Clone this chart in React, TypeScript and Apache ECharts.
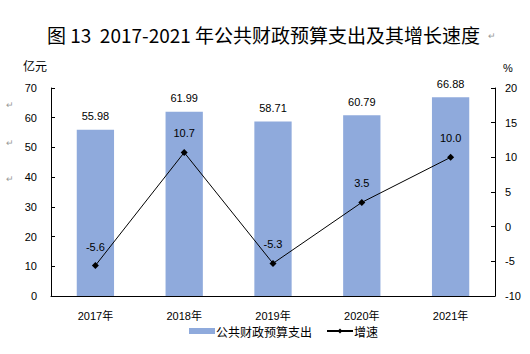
import React, { useEffect, useRef } from "react";
import * as echarts from "echarts";

const categories = ["2017年", "2018年", "2019年", "2020年", "2021年"];
const spending = [55.98, 61.99, 58.71, 60.79, 66.88];
const growth = [-5.6, 10.7, -5.3, 3.5, 10.0];
const seriesNames = ["公共财政预算支出", "增速"];
const titleText = "图 13  2017-2021 年公共财政预算支出及其增长速度";

export default function App() {
  const ref = useRef<HTMLDivElement>(null);
  useEffect(() => {
    const chart = echarts.init(ref.current!, undefined, { renderer: "svg" });
    const font = "'Liberation Sans', 'Noto Sans CJK SC', sans-serif";
    chart.setOption({
      animation: false,
      backgroundColor: "#ffffff",
      textStyle: { fontFamily: font, color: "#000" },
      title: {
        text: titleText,
        left: 42,
        top: 20,
        textStyle: { fontSize: 19, fontWeight: "normal", color: "#000", fontFamily: "'Noto Sans CJK SC', sans-serif" },
      },
      graphic: [
        { type: "text", left: 488, top: 31, style: { text: "↵", fill: "#999", fontSize: 9 } },
        { type: "text", left: 6, top: 100, style: { text: "↵", fill: "#999", fontSize: 9 } },
        { type: "text", left: 6, top: 138, style: { text: "↵", fill: "#999", fontSize: 9 } },
        { type: "text", left: 6, top: 174, style: { text: "↵", fill: "#999", fontSize: 9 } },
      ],
      grid: { left: 51, right: 35, top: 88, bottom: 58 },
      legend: {
        bottom: 12,
        left: 184,
        itemGap: 14,
        textStyle: { fontSize: 12, color: "#000", fontFamily: "'Noto Sans CJK SC', sans-serif", padding: [0, 0, 0, -4] },
        data: [
          { name: seriesNames[0], icon: "rect", itemStyle: { color: "#8faadc" } },
          { name: seriesNames[1] },
        ],
        itemWidth: 26,
        itemHeight: 6,
      },
      xAxis: {
        type: "category",
        data: categories,
        axisLine: { lineStyle: { color: "#000", width: 1 } },
        axisTick: { inside: true, length: 4, lineStyle: { color: "#000" } },
        axisLabel: { fontSize: 11, color: "#000", margin: 14 },
      },
      yAxis: [
        {
          type: "value",
          min: 0,
          max: 70,
          interval: 10,
          name: "亿元",
          nameGap: 15,
          nameTextStyle: { fontSize: 12, color: "#000", align: "right", padding: [0, 4, 0, 0] },
          splitLine: { show: false },
          axisLine: { show: true, lineStyle: { color: "#000" } },
          axisTick: { show: true, inside: true, length: 4, lineStyle: { color: "#000" } },
          axisLabel: { fontSize: 11, color: "#000", margin: 14 },
        },
        {
          type: "value",
          min: -10,
          max: 20,
          interval: 5,
          name: "%",
          nameGap: 15,
          nameTextStyle: { fontSize: 11, color: "#000", align: "left", padding: [0, 0, 0, 8] },
          splitLine: { show: false },
          axisLine: { show: true, lineStyle: { color: "#000" } },
          axisTick: { show: true, inside: true, length: 4, lineStyle: { color: "#000" } },
          axisLabel: { fontSize: 11, color: "#000", margin: 10 },
        },
      ],
      series: [
        {
          name: seriesNames[0],
          type: "bar",
          data: spending,
          barWidth: "42%",
          itemStyle: { color: "#8faadc" },
          label: {
            show: true,
            position: "top",
            distance: 8,
            fontSize: 11,
            color: "#000",
            formatter: (p: any) => p.value.toFixed(2),
          },
        },
        {
          name: seriesNames[1],
          type: "line",
          yAxisIndex: 1,
          data: growth,
          symbol: "diamond",
          symbolSize: 7,
          lineStyle: { color: "#000", width: 1 },
          itemStyle: { color: "#000" },
          label: {
            show: true,
            position: "top",
            distance: 10,
            fontSize: 11,
            color: "#000",
            formatter: (p: any) => p.value.toFixed(1),
          },
        },
      ],
    });
    return () => chart.dispose();
  }, []);
  return <div ref={ref} style={{ width: 530, height: 354, position: "absolute", left: 0, top: 0 }} />;
}
